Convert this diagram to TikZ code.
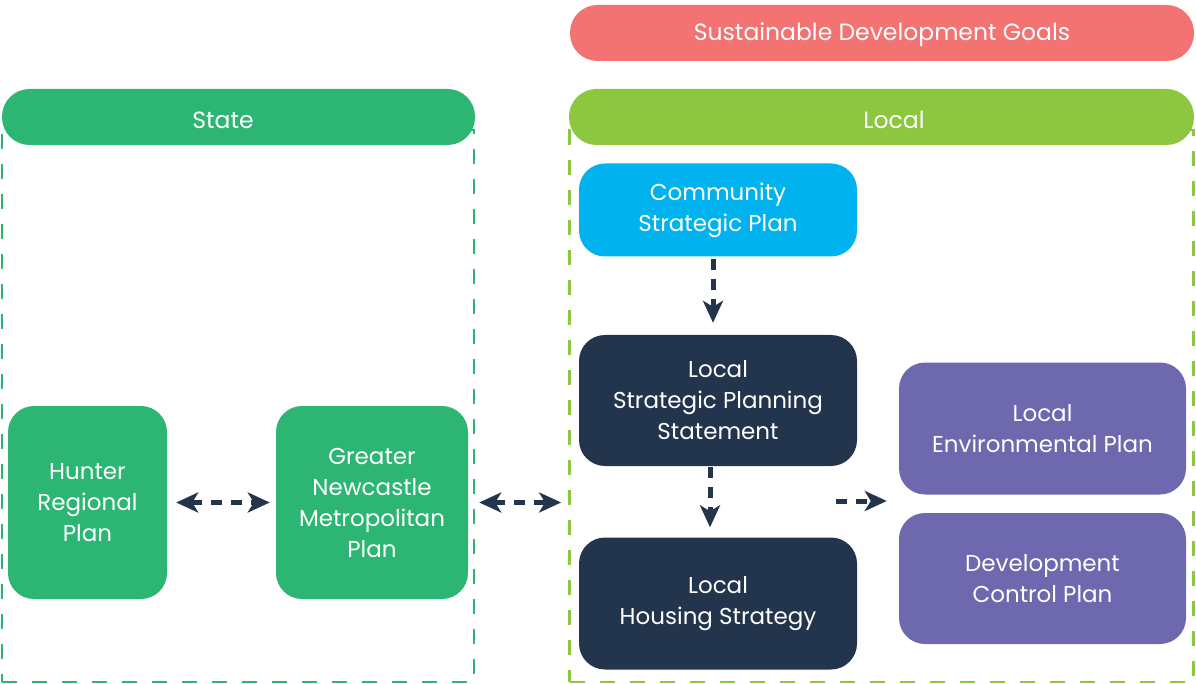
\documentclass[tikz,border=0pt]{standalone}
\usepackage{fontspec}
\setmainfont{Poppins}
\usetikzlibrary{arrows.meta}
\definecolor{navy}{HTML}{23344D}
\definecolor{stategreen}{HTML}{2DB673}
\definecolor{localgreen}{HTML}{8DC63F}
\definecolor{cspblue}{HTML}{00B3EF}
\definecolor{purple}{HTML}{6E68AF}
\definecolor{salmon}{HTML}{F37272}
\tikzset{
  box/.style={rounded corners=26pt, inner sep=0pt, align=center, text=white,
    font=\fontsize{23}{31}\selectfont},
  header/.style={rounded corners=27.5pt, inner sep=0pt, minimum height=56pt},
  htext/.style={text=white, font=\fontsize{23.5}{28}\selectfont, inner sep=0pt},
  frame/.style={draw, line width=2.8pt, dash pattern=on 15pt off 15pt, inner sep=0pt},
  conn/.style={draw=navy, line width=5pt, dash pattern=on 11pt off 9pt,
    -{Stealth[length=22pt,width=20pt,inset=6pt]}},
  biconn/.style={conn, {Stealth[length=22pt,width=20pt,inset=6pt]}-{Stealth[length=22pt,width=20pt,inset=6pt]}}
}
\begin{document}
\begin{tikzpicture}[x=1pt,y=-1pt]
\useasboundingbox (0,0) rectangle (1196,684);
% frames
\node[frame, draw=stategreen, minimum width=472pt, minimum height=552pt] (stateframe) at (238,406) {};
\node[frame, draw=localgreen, minimum width=624pt, minimum height=552pt] (localframe) at (881.5,406) {};
% headers
\node[header, fill=salmon, minimum width=624pt] (sdg) at (882,33) {};
\node[htext] (sdgt) at (882,35) {Sustainable Development Goals};
\node[header, fill=stategreen, minimum width=473pt] (state) at (238.5,117) {};
\node[htext] (statet) at (223,120) {State};
\node[header, fill=localgreen, minimum width=625pt] (local) at (881.5,117) {};
\node[htext] (localt) at (894,120) {Local};
% boxes
\node[box, fill=stategreen, minimum width=159pt, minimum height=193pt] (hunter) at (87.5,502.5) {Hunter\\Regional\\Plan};
\node[box, fill=stategreen, minimum width=192pt, minimum height=193pt] (gnmp) at (372,502.5) {Greater\\Newcastle\\Metropolitan\\Plan};
\node[box, fill=cspblue, minimum width=278pt, minimum height=93pt] (csp) at (718,210) {Community\\Strategic Plan};
\node[box, fill=navy, minimum width=278pt, minimum height=131pt] (lsps) at (718,400.5) {Local\\Strategic Planning\\Statement};
\node[box, fill=navy, minimum width=278pt, minimum height=132pt] (lhs) at (718,603.5) {Local\\Housing Strategy};
\node[box, fill=purple, minimum width=287pt, minimum height=132pt] (lep) at (1042.5,428.5) {Local\\Environmental Plan};
\node[box, fill=purple, minimum width=287pt, minimum height=131pt] (dcp) at (1042.5,578.5) {Development\\Control Plan};
% connectors
\draw[biconn, shorten <=9pt, shorten >=6pt] (hunter.east) -- (gnmp.west);
\draw[biconn, shorten <=11pt, shorten >=7pt] (gnmp.east) -- (gnmp.east -| localframe.west);
\draw[conn, shorten <=2pt, shorten >=12pt] ([xshift=-5pt]csp.south) -- ([xshift=-5pt]lsps.north);
\draw[conn, shorten <=1pt, shorten >=10pt] ([xshift=-8pt]lsps.south) -- ([xshift=-8pt]lhs.north);
\coordinate (rstart) at (836,501);
\draw[conn, shorten >=12pt] (rstart) -- (rstart -| lep.west);
\end{tikzpicture}
\end{document}
